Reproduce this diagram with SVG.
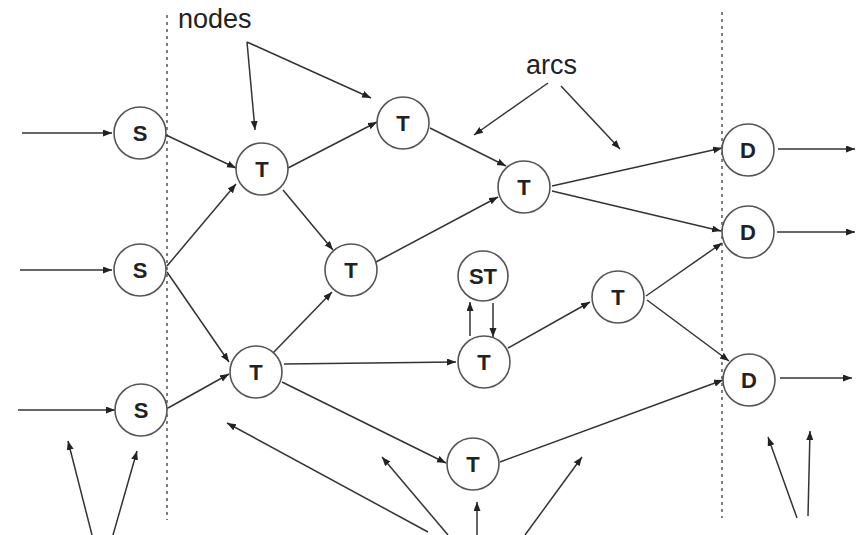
<svg xmlns="http://www.w3.org/2000/svg" width="861" height="535" viewBox="0 0 861 535">
<style>
.bg{fill:#fff}
.n circle{fill:#fff;stroke:#555;stroke-width:1.6}
.n text{font-family:"Liberation Sans",Arial,sans-serif;font-weight:bold;font-size:22px;fill:#222;text-anchor:middle}
.e line{stroke:#333;stroke-width:1.5;marker-end:url(#ah)}
.d{stroke:#555;stroke-width:1.5;stroke-dasharray:3 4}
.lbl{font-family:"Liberation Sans",Arial,sans-serif;font-size:27px;fill:#222}
</style>
<defs>
<marker id="ah" markerUnits="userSpaceOnUse" markerWidth="10" markerHeight="8" refX="9" refY="3.5" orient="auto">
<path d="M0,0 L9,3.5 L0,7 z" fill="#222"/>
</marker>
</defs>
<rect class="bg" width="861" height="535"/>
<line class="d" x1="167" y1="15" x2="167" y2="520"/>
<line class="d" x1="722" y1="12" x2="722" y2="518"/>
<text class="lbl" x="178" y="28">nodes</text>
<text class="lbl" x="526" y="74">arcs</text>
<g class="e" id="connectors">
<line x1="22" y1="133" x2="112" y2="133"/>
<line x1="20" y1="270" x2="112" y2="270"/>
<line x1="18" y1="410" x2="115" y2="410"/>
<line x1="166" y1="135" x2="236" y2="168"/>
<line x1="167" y1="266" x2="236" y2="184"/>
<line x1="167" y1="272" x2="229" y2="362"/>
<line x1="168" y1="408" x2="229" y2="374"/>
<line x1="288" y1="168" x2="377" y2="122"/>
<line x1="283" y1="190" x2="333" y2="250"/>
<line x1="273" y1="353" x2="332" y2="292"/>
<line x1="430" y1="128" x2="506" y2="166"/>
<line x1="376" y1="262" x2="498" y2="197"/>
<line x1="552" y1="186" x2="722" y2="148"/>
<line x1="552" y1="191" x2="721" y2="231"/>
<line x1="284" y1="364" x2="456" y2="362"/>
<line x1="470" y1="336" x2="470" y2="302"/>
<line x1="493" y1="303" x2="493" y2="337"/>
<line x1="508" y1="348" x2="590" y2="302"/>
<line x1="646" y1="296" x2="722" y2="243"/>
<line x1="647" y1="300" x2="729" y2="361"/>
<line x1="282" y1="382" x2="446" y2="463"/>
<line x1="500" y1="462" x2="723" y2="380"/>
<line x1="778" y1="149" x2="855" y2="149"/>
<line x1="777" y1="232" x2="855" y2="232"/>
<line x1="780" y1="378" x2="852" y2="378"/>
<line x1="247" y1="42" x2="255" y2="130"/>
<line x1="247" y1="42" x2="371" y2="98"/>
<line x1="548" y1="83" x2="474" y2="135"/>
<line x1="561" y1="86" x2="620" y2="149"/>
<line x1="92" y1="535" x2="68" y2="441"/>
<line x1="113" y1="535" x2="137" y2="451"/>
<line x1="428" y1="532" x2="227" y2="423"/>
<line x1="448" y1="535" x2="382" y2="457"/>
<line x1="477" y1="535" x2="477" y2="502"/>
<line x1="525" y1="535" x2="582" y2="457"/>
<line x1="797" y1="518" x2="768" y2="437"/>
<line x1="808" y1="516" x2="810" y2="431"/>
</g>
<g class="n" id="S1"><circle cx="140" cy="133" r="26"/><text x="140" y="141">S</text></g>
<g class="n" id="S2"><circle cx="140" cy="270" r="26"/><text x="140" y="278">S</text></g>
<g class="n" id="S3"><circle cx="141" cy="410" r="26"/><text x="141" y="418">S</text></g>
<g class="n" id="T1"><circle cx="262" cy="169" r="26"/><text x="262" y="177">T</text></g>
<g class="n" id="T2"><circle cx="403" cy="123" r="26"/><text x="403" y="131">T</text></g>
<g class="n" id="T3"><circle cx="351" cy="270" r="26"/><text x="351" y="278">T</text></g>
<g class="n" id="T4"><circle cx="256" cy="372" r="26"/><text x="256" y="380">T</text></g>
<g class="n" id="T5"><circle cx="524" cy="187" r="26"/><text x="524" y="195">T</text></g>
<g class="n" id="ST"><circle cx="483" cy="276" r="25"/><text x="483" y="284">ST</text></g>
<g class="n" id="T6"><circle cx="484" cy="362" r="26"/><text x="484" y="370">T</text></g>
<g class="n" id="T7"><circle cx="618" cy="297" r="26"/><text x="618" y="305">T</text></g>
<g class="n" id="T8"><circle cx="473" cy="464" r="26"/><text x="473" y="472">T</text></g>
<g class="n" id="D1"><circle cx="748" cy="150" r="26"/><text x="748" y="158">D</text></g>
<g class="n" id="D2"><circle cx="748" cy="232" r="26"/><text x="748" y="240">D</text></g>
<g class="n" id="D3"><circle cx="749" cy="380" r="26"/><text x="749" y="388">D</text></g>
</svg>
